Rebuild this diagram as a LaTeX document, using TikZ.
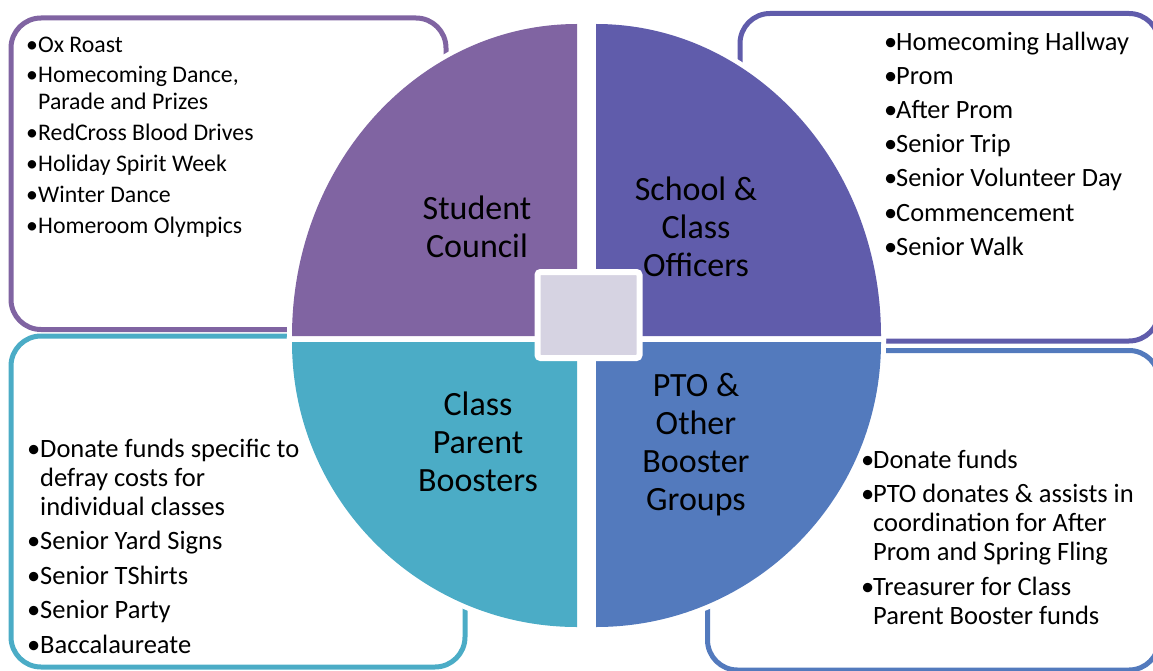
\documentclass[tikz,border=0pt]{standalone}
\usepackage{fontspec}
\setmainfont{Carlito}
\definecolor{cTL}{HTML}{8064A2}
\definecolor{cTR}{HTML}{605CAB}
\definecolor{cBL}{HTML}{4BACC6}
\definecolor{cBR}{HTML}{537ABD}
\definecolor{cMid}{HTML}{D6D3E2}
\newcommand\bitem[2]{\par\hangindent=#1pt\hangafter=1\noindent\makebox[#1pt][l]{•}#2}
\newenvironment{blist}[1]{\begin{minipage}[t]{400pt}\setlength\parskip{#1pt}\setlength\parindent{0pt}}{\end{minipage}}
\tikzset{
  listbox/.style={draw=#1, line width=5pt, rounded corners=30pt},
  quad/.style={fill=#1, preaction={draw=white, line width=10pt}},
  titletext/.style={anchor=north, inner sep=0pt, align=center, font=\fontsize{34}{38}\selectfont},
  bullets/.style={anchor=north west, inner sep=0pt},
}
\begin{document}
\begin{tikzpicture}[x=1pt, y=-1pt]
\useasboundingbox (0,0) rectangle (1153,671);
\clip (0,0) rectangle (1153,671);
% text boxes
\draw[listbox=cTL] (11,18) rectangle (446,329.5);
\draw[listbox=cTR] (740,13.5) rectangle (1159,341);
\draw[listbox=cBL] (11,336) rectangle (465,667);
\draw[listbox=cBR] (707.5,350.5) rectangle (1159,670);
% quadrants
\path[quad=cTL] (577,336) -- (292,336) arc[start angle=180, end angle=270, x radius=285, y radius=312] -- cycle;
\path[quad=cTR] (596,336) -- (881,336) arc[start angle=0, end angle=-90, x radius=285, y radius=312] -- cycle;
\path[quad=cBL] (577,342) -- (292,342) arc[start angle=180, end angle=90, x radius=285, y radius=285] -- cycle;
\path[quad=cBR] (596,342) -- (881,342) arc[start angle=0, end angle=90, x radius=285, y radius=285] -- cycle;
% centre square
\draw[fill=cMid, draw=white, line width=6pt, rounded corners=3pt] (537.5,272) rectangle (639.5,358);
% titles
\node[titletext] (sc) at (477,191) {\rule{0pt}{28pt}Student\\Council};
\node[titletext] (sco) at (696,172) {\rule{0pt}{28pt}School \&\\Class\\Officers};
\node[titletext] (cpb) at (478,387) {\rule{0pt}{28pt}Class\\Parent\\Boosters};
\node[titletext] (pto) at (696,368) {\rule{0pt}{28pt}PTO \&\\Other\\Booster\\Groups};
% bullet lists
\node[bullets, font=\fontsize{23.8}{27}\selectfont] (tl) at (26,30)
 {\begin{blist}{3.8}%
  \bitem{12}{\rule{0pt}{22pt}Ox Roast}%
  \bitem{12}{Homecoming Dance,\newline Parade and Prizes}%
  \bitem{12}{RedCross Blood Drives}%
  \bitem{12}{Holiday Spirit Week}%
  \bitem{12}{Winter Dance}%
  \bitem{12}{Homeroom Olympics}%
  \end{blist}};
\node[bullets, font=\fontsize{26.4}{34.2}\selectfont] (tr) at (884,28)
 {\begin{blist}{0}%
  \bitem{12}{\rule{0pt}{22pt}Homecoming Hallway}%
  \bitem{12}{Prom}%
  \bitem{12}{After Prom}%
  \bitem{12}{Senior Trip}%
  \bitem{12}{Senior Volunteer Day}%
  \bitem{12}{Commencement}%
  \bitem{12}{Senior Walk}%
  \end{blist}};
\node[bullets, font=\fontsize{26.5}{29}\selectfont] (bl) at (27,435)
 {\begin{blist}{5.5}%
  \bitem{13}{\rule{0pt}{22pt}Donate funds specific to\newline defray costs for\newline individual classes}%
  \bitem{13}{Senior Yard Signs}%
  \bitem{13}{Senior TShirts}%
  \bitem{13}{Senior Party}%
  \bitem{13}{Baccalaureate}%
  \end{blist}};
\node[bullets, font=\fontsize{26.5}{29}\selectfont] (br) at (861,446)
 {\begin{blist}{5.5}%
  \bitem{12}{\rule{0pt}{22pt}Donate funds}%
  \bitem{12}{PTO donates \& assists in\newline coordination for After\newline Prom and Spring Fling}%
  \bitem{12}{Treasurer for Class\newline Parent Booster funds}%
  \end{blist}};
\end{tikzpicture}
\end{document}
